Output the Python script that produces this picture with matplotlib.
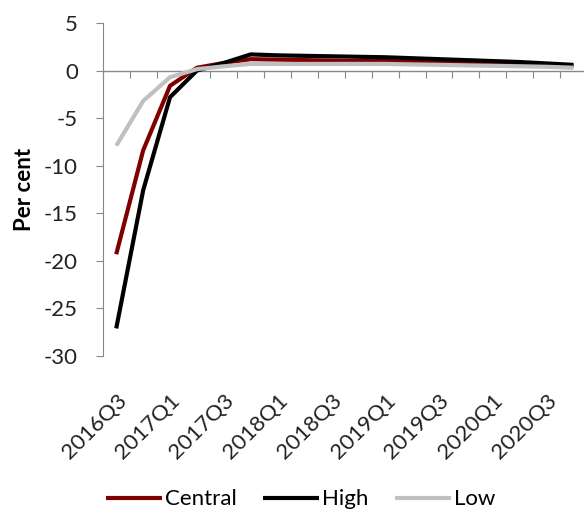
import matplotlib.pyplot as plt
import matplotlib.transforms as mtransforms
import numpy as np

# Datos (por trimestre)
quarters = ["2016Q3", "2016Q4", "2017Q1", "2017Q2", "2017Q3", "2017Q4",
            "2018Q1", "2018Q2", "2018Q3", "2018Q4", "2019Q1", "2019Q2",
            "2019Q3", "2019Q4", "2020Q1", "2020Q2", "2020Q3", "2020Q4"]
central = [-19.3, -8.4, -1.6, 0.3, 0.8, 1.2, 1.15, 1.1, 1.05, 1.0, 1.0,
           0.95, 0.9, 0.85, 0.8, 0.7, 0.6, 0.5]
high = [-27.1, -12.6, -2.8, 0.0, 0.8, 1.7, 1.6, 1.55, 1.5, 1.45, 1.4,
        1.3, 1.2, 1.1, 1.0, 0.9, 0.75, 0.6]
low = [-7.9, -3.2, -0.7, 0.15, 0.45, 0.7, 0.7, 0.7, 0.7, 0.7, 0.7,
       0.65, 0.6, 0.55, 0.5, 0.45, 0.4, 0.3]

plt.rcParams['font.family'] = ['Lato', 'DejaVu Sans']
plt.rcParams['axes.unicode_minus'] = False

fig = plt.figure(figsize=(5.84, 5.09), dpi=100)
ax = fig.add_axes([0.176, 0.3006, 0.829, 0.6542])

x = np.arange(len(quarters))
ax.plot(x, central, color="#800000", lw=3, label="Central", solid_capstyle="butt")
ax.plot(x, high, color="black", lw=3, label="High", solid_capstyle="butt")
ax.plot(x, low, color="#c0c0c0", lw=3, label="Low", solid_capstyle="butt")

ax.set_xlim(-0.5, len(quarters) - 0.5)
ax.set_ylim(-30, 5)
ax.set_yticks(np.arange(-30, 6, 5))
ax.tick_params(axis="y", labelsize=16, color="#888888", length=5, direction="out",
               labelcolor="#222222", pad=13)
ax.set_ylabel("Per cent", fontsize=16, fontweight="bold", labelpad=6)

# etiquetas del eje x abajo, sin marcas
ax.set_xticks(x[::2])
ax.set_xticklabels(quarters[::2], rotation=45, ha="right", rotation_mode="anchor",
                   fontsize=16, color="#222222")
ax.tick_params(axis="x", length=0, pad=25)
desplaza = mtransforms.ScaledTranslation(0, 0, fig.dpi_scale_trans)
for lbl in ax.get_xticklabels():
    lbl.set_transform(lbl.get_transform() + desplaza)

for s in ["top", "right", "bottom"]:
    ax.spines[s].set_visible(False)
ax.spines["left"].set_color("#888888")

# eje de categorias cruzando en cero
ax.axhline(0, color="#888888", lw=1, zorder=0)
sec = ax.secondary_xaxis(30 / 35)
sec.set_xticks(np.arange(-0.5, len(quarters), 1))
sec.tick_params(axis="x", direction="out", length=5, color="#888888", labelbottom=False,
                labeltop=False, bottom=True, top=False)
sec.spines["bottom"].set_visible(False)
sec.spines["top"].set_visible(False)
sec.xaxis.set_ticks_position("bottom")
sec.set_xticklabels([])

fig.legend(loc="lower center", bbox_to_anchor=(0.515, -0.04), ncol=3, frameon=False,
           fontsize=16, handlelength=2.5, handletextpad=0.15, columnspacing=1.2)

plt.savefig("out.png", dpi=100)
